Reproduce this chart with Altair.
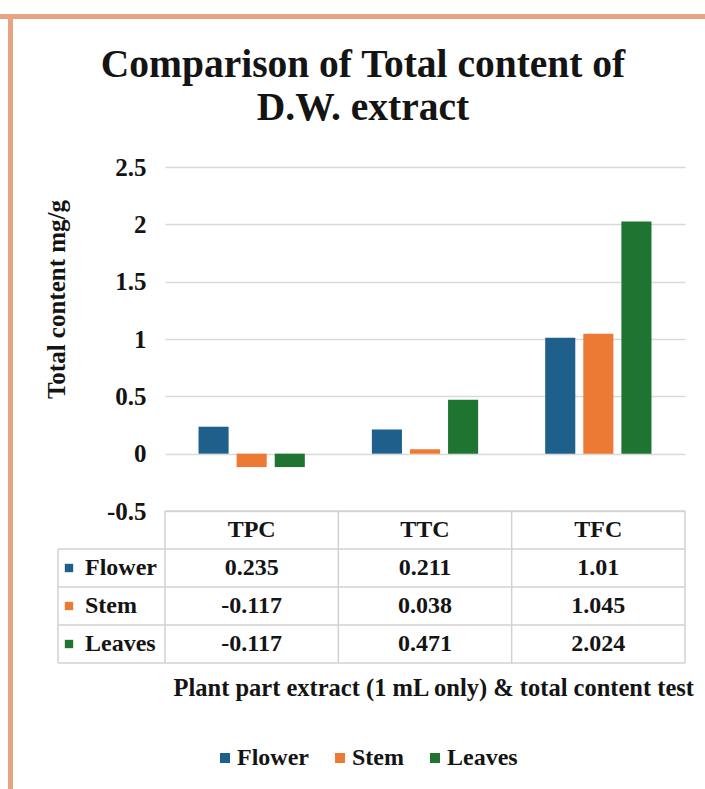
import altair as alt
import pandas as pd

# ---- data -------------------------------------------------------------
tests = ["TPC", "TTC", "TFC"]
series = ["Flower", "Stem", "Leaves"]
flower = [0.235, 0.211, 1.01]
stem = [-0.117, 0.038, 1.045]
leaves = [-0.117, 0.471, 2.024]
colors = ["#1F5F8C", "#EC7A35", "#1E7430"]
y_ticks = [-0.5, 0, 0.5, 1, 1.5, 2, 2.5]

title_lines = ["Comparison of Total content of", "D.W. extract"]
y_title = "Total content mg/g"
x_title = "Plant part extract (1 mL only) & total content test"

# ---- layout constants -------------------------------------------------
FONT = "Liberation Serif"
INK = "#141414"
GRID = "#D9D9D9"
LINE = "#D2D2D2"
BORDER = "#E8A383"
PAGE_W, PAGE_H = 705, 789
LEFT, TOP = 165, 167   # plot origin inside the page
W = 520                # plot / table width
H = 344                # plot height
ROW_H = 38             # data table row height
TABLE_H = 4 * ROW_H
LABEL_COL = 107        # width of the series-name column left of the table

records = []
for name, vals in zip(series, [flower, stem, leaves]):
    for t, v in zip(tests, vals):
        records.append({"test": t, "series": name, "row": name,
                        "value": v, "label": f"{v:g}"})
df = pd.DataFrame(records)
header_df = pd.DataFrame({"test": tests, "row": ["head"] * len(tests)})
names_df = pd.DataFrame({"series": series, "row": series})
one = alt.Data(values=[{}])

x_scale = alt.Scale(domain=tests, paddingInner=0, paddingOuter=0)
color_scale = alt.Scale(domain=series, range=colors)
# rows of the data table sit directly below the plot area
row_scale = alt.Scale(domain=["head"] + series, range=[H, H + TABLE_H],
                      paddingInner=0, paddingOuter=0)

x_axis = alt.Axis(labels=False, ticks=False, domain=False, grid=False,
                  title=x_title, titleFont=FONT, titleFontSize=24.5,
                  titleFontWeight="bold", titleColor=INK,
                  titleAnchor="start", titleAlign="left",
                  titleBaseline="middle", titleX=8, titleY=TABLE_H + 25)

legend = alt.Legend(orient="none", legendX=48, legendY=H + 235,
                    direction="horizontal", title=None,
                    symbolType="square", symbolSize=100,
                    symbolStrokeWidth=0, symbolOpacity=1,
                    labelFont=FONT, labelFontSize=24,
                    labelFontWeight="bold", labelColor=INK,
                    labelOffset=0, columnPadding=19)
color = alt.Color("series:N", scale=color_scale, sort=series, legend=legend)


def xpos(**kw):
    return alt.X("test:N", scale=x_scale, axis=x_axis, sort=tests, **kw)


def ypos(**kw):
    return alt.Y("row:N", scale=row_scale, axis=None, **kw)


# ---- bar chart ---------------------------------------------------------
bars = alt.Chart(df).mark_bar().encode(
    x=xpos(),
    xOffset=alt.XOffset("series:N", sort=series,
                        scale=alt.Scale(domain=series, paddingInner=0.21,
                                        paddingOuter=0.88)),
    y=alt.Y("value:Q",
            scale=alt.Scale(domain=[-0.5, 2.5], nice=False, zero=False),
            axis=alt.Axis(values=y_ticks, labelExpr="'' + datum.value",
                          grid=True, gridColor=GRID, gridWidth=1.6,
                          ticks=False, domain=False,
                          labelFont=FONT, labelFontSize=25,
                          labelFontWeight="bold", labelColor=INK,
                          labelPadding=19,
                          title=y_title, titleFont=FONT, titleFontSize=25,
                          titleFontWeight="bold", titleColor=INK,
                          titleAngle=270, titleAlign="center",
                          titleBaseline="middle", titleX=-109, titleY=132)),
    color=color,
)

title_text = alt.Chart(one).mark_text(
    font=FONT, fontSize=39.5, fontWeight="bold", color=INK,
    align="center", baseline="alphabetic", lineBreak="\n", lineHeight=43,
).encode(
    x=alt.value(198), y=alt.value(-90),
    text=alt.value("\n".join(title_lines)),
)

frame_top = alt.Chart(one).mark_rule(color=BORDER, strokeWidth=5).encode(
    x=alt.value(-LEFT), x2=alt.value(PAGE_W - LEFT), y=alt.value(-150.5))
frame_left = alt.Chart(one).mark_rule(color=BORDER, strokeWidth=5).encode(
    x=alt.value(-154.5), y=alt.value(-153), y2=alt.value(PAGE_H - TOP))

# ---- data table --------------------------------------------------------
rule = dict(color=LINE, strokeWidth=1.5)
col_lines = alt.Chart(header_df).mark_rule(**rule).encode(
    x=xpos(bandPosition=0), y=alt.value(H), y2=alt.value(H + TABLE_H))
right_line = alt.Chart(one).mark_rule(**rule).encode(
    x=alt.value(W), y=alt.value(H), y2=alt.value(H + TABLE_H))
top_line = alt.Chart(one).mark_rule(**rule).encode(
    x=alt.value(0), x2=alt.value(W), y=alt.value(H))
row_lines = alt.Chart(names_df).mark_rule(**rule).encode(
    y=ypos(bandPosition=0), x=alt.value(-LABEL_COL), x2=alt.value(W))
bottom_line = alt.Chart(one).mark_rule(**rule).encode(
    x=alt.value(-LABEL_COL), x2=alt.value(W), y=alt.value(H + TABLE_H))
label_box = alt.Chart(one).mark_rule(**rule).encode(
    x=alt.value(-LABEL_COL), y=alt.value(H + ROW_H), y2=alt.value(H + TABLE_H))

text_style = dict(font=FONT, fontSize=24, fontWeight="bold", color=INK,
                  baseline="middle")
header_text = alt.Chart(header_df).mark_text(**text_style).encode(
    x=xpos(), y=ypos(), text="test:N")
cell_text = alt.Chart(df).mark_text(**text_style).encode(
    x=xpos(), y=ypos(), text="label:N")
name_text = alt.Chart(names_df).mark_text(align="left", **text_style).encode(
    x=alt.value(-80), y=ypos(), text="series:N")
name_keys = alt.Chart(names_df).mark_square(size=70, opacity=1).encode(
    x=alt.value(-96), y=ypos(), color=color)

chart = alt.layer(
    frame_top, frame_left, title_text, bars,
    col_lines, right_line, top_line, row_lines, bottom_line, label_box,
    header_text, cell_text, name_text, name_keys,
).resolve_scale(
    y="independent"
).properties(
    width=W, height=H,
    autosize=alt.AutoSizeParams(type="none"),
    padding={"left": LEFT, "top": TOP,
             "right": PAGE_W - LEFT - W, "bottom": PAGE_H - TOP - H},
    background="white",
    view=alt.ViewBackground(stroke=None),
)

chart.save("out.html", embed_options={"renderer": "svg", "actions": False})
